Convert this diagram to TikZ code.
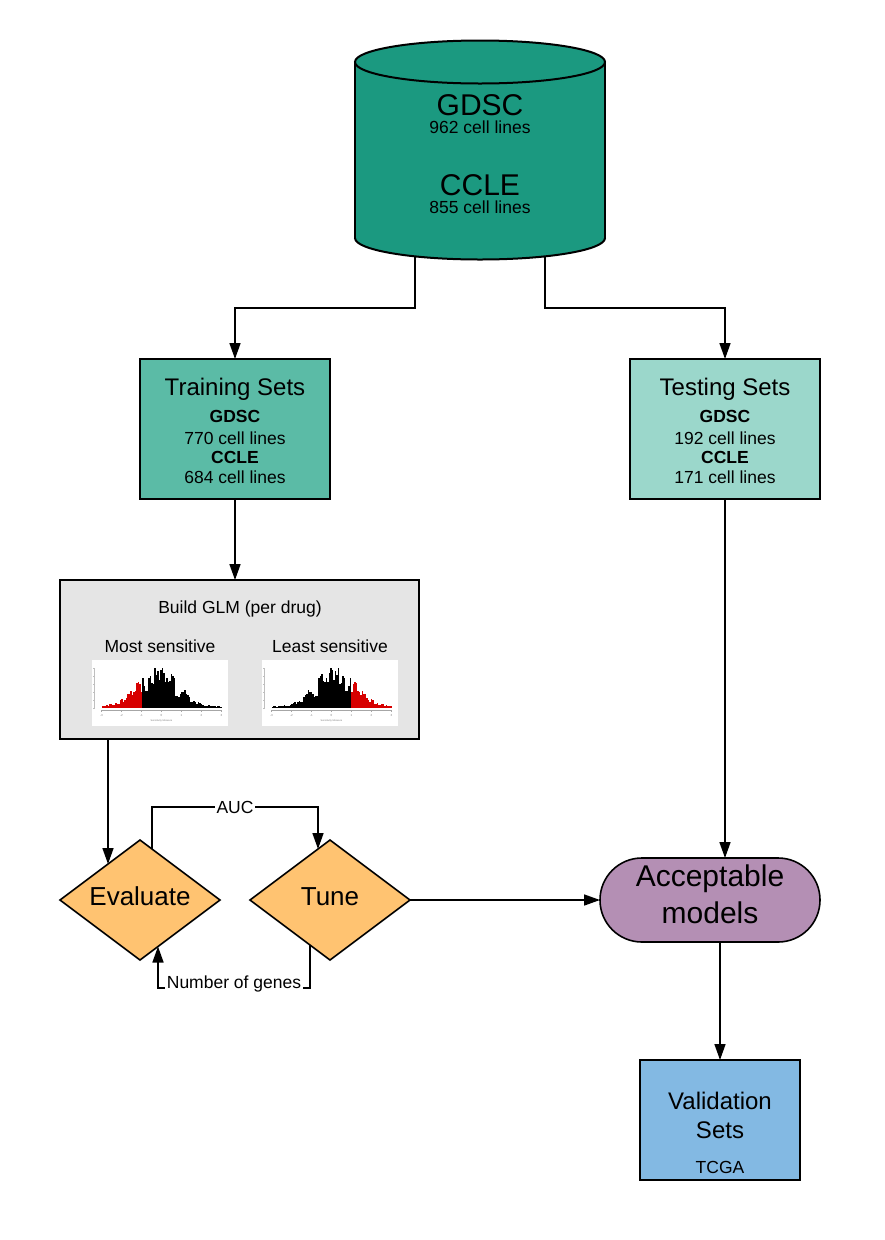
\documentclass[tikz,border=0pt]{standalone}
\usepackage{fontspec}
\setmainfont{Liberation Sans}
\usetikzlibrary{arrows.meta,shapes.geometric,calc}
\definecolor{dbcol}{RGB}{27,153,128}
\definecolor{traincol}{RGB}{91,187,166}
\definecolor{testcol}{RGB}{155,215,203}
\definecolor{glmcol}{RGB}{229,229,229}
\definecolor{diacol}{RGB}{255,195,113}
\definecolor{acccol}{RGB}{180,143,180}
\definecolor{valcol}{RGB}{131,185,227}
\definecolor{histred}{RGB}{215,0,0}
\newcommand\myfs[1]{\fontsize{#1}{#1}\selectfont}
\newcommand\histbars{%
  \pgfmathsetseed{12}%
  \foreach \i in {0,...,79}{%
    \pgfmathsetmacro\xc{-3+0.075*(\i+0.5)}%
    \pgfmathsetmacro\hh{1.2+42*exp(-((\xc+0.2)^2)/(2*1.0^2))*(0.4+0.6*rnd)}%
    \ifnum\i<27 \def\bc{histred}\else\def\bc{black}\fi
    \fill[fill=\bc] (-60+1.5*\i,0) rectangle (-58.5+1.5*\i,-\hh);
  }}
\newcommand\histaxes[1]{%
  \draw[gray!70, line width=0.4pt] (-60,2) -- (60,2);
  \foreach \t in {-3,...,3}{%
    \draw[gray!70, line width=0.3pt] (20*\t,2) -- (20*\t,4);
    \node[font=\myfs{3}, text=gray, inner sep=0pt] (#1t\t) at (20*\t,7) {\t};
  }
  \node[font=\myfs{2.5}, text=gray, inner sep=0pt] (#1lab) at (0,13) {Sensitivity Measure};
  \draw[gray!50, line width=0.3pt] (-67,0) -- (-67,-40);
  \foreach \u in {0,8,...,40}{\draw[gray!50, line width=0.3pt] (-67,-\u) -- (-69,-\u);}
}
\begin{document}
\begin{tikzpicture}[x=1pt,y=-1pt,
  arr/.style={line width=1.6pt, -{Triangle[length=16pt,width=11pt]}},
  box/.style={draw, line width=2pt, inner sep=0pt, outer sep=0pt},
  dia/.style={diamond, draw, line width=1.6pt, fill=diacol, minimum width=160pt,
    minimum height=120pt, inner sep=0pt, outer sep=0pt, aspect=1.333},
  txt/.style={inner sep=0pt, anchor=base},
  lbl/.style={fill=white, inner sep=1.5pt, font=\myfs{17.5}},
]
\useasboundingbox (0,0) rectangle (885,1240);

% ---------- cylinder ----------
\fill[dbcol] (355,62) rectangle (605,238);
\fill[dbcol] (480,238) ellipse [x radius=125pt, y radius=21.5pt];
\begin{scope}
  \clip (340,238) rectangle (620,275);
  \draw[line width=2pt] (480,238) ellipse [x radius=125pt, y radius=21.5pt];
\end{scope}
\draw[line width=2pt] (355,62) -- (355,238) (605,62) -- (605,238);
\draw[line width=2pt, fill=dbcol] (480,62) ellipse [x radius=125pt, y radius=21.5pt];
\node[inner sep=0pt, minimum width=250pt, minimum height=220pt] (db) at (480,150) {};
\coordinate (dbl) at (415,257);
\coordinate (dbr) at (545,257);
\node[txt, font=\myfs{30}] (dbg) at (480,115) {GDSC};
\node[txt, font=\myfs{17.5}] (dbgn) at (480,133.3) {962 cell lines};
\node[txt, font=\myfs{30}] (dbc) at (480,195) {CCLE};
\node[txt, font=\myfs{17.5}] (dbcn) at (480,213) {855 cell lines};

% ---------- training / testing ----------
\node[box, fill=traincol, minimum width=190pt, minimum height=140pt] (train) at (235,429) {};
\node[txt, font=\myfs{24}] (trt) at (235,395) {Training Sets};
\node[txt, font=\myfs{17.5}\bfseries] (trg) at (235,422.7) {GDSC};
\node[txt, font=\myfs{17.5}] (trgn) at (235,444.7) {770 cell lines};
\node[txt, font=\myfs{17.5}\bfseries] (trc) at (235,463.3) {CCLE};
\node[txt, font=\myfs{17.5}] (trcn) at (235,483.3) {684 cell lines};

\node[box, fill=testcol, minimum width=190pt, minimum height=140pt] (test) at (725,429) {};
\node[txt, font=\myfs{24}] (tet) at (725,395) {Testing Sets};
\node[txt, font=\myfs{17.5}\bfseries] (teg) at (725,422.7) {GDSC};
\node[txt, font=\myfs{17.5}] (tegn) at (725,444.7) {192 cell lines};
\node[txt, font=\myfs{17.5}\bfseries] (tec) at (725,463.3) {CCLE};
\node[txt, font=\myfs{17.5}] (tecn) at (725,483.3) {171 cell lines};

% ---------- GLM box ----------
\node[box, fill=glmcol, minimum width=359pt, minimum height=159pt] (glm) at (239.5,659.5) {};
\node[txt, font=\myfs{17.5}] (glmt) at (240,613.3) {Build GLM (per drug)};
\node[txt, font=\myfs{17.5}] (most) at (160,652.7) {Most sensitive};
\node[txt, font=\myfs{17.5}] (least) at (330,652.7) {Least sensitive};
\fill[white] (92.3,660) rectangle (227.7,725.7);
\fill[white] (262.3,660) rectangle (398.3,725.7);
\begin{scope}[shift={(161.5,708)}]
  \histbars
  \histaxes{ha}
\end{scope}
\begin{scope}[shift={(331.5,708)}]
  \begin{scope}[xscale=-1]
    \histbars
  \end{scope}
  \histaxes{hb}
\end{scope}

% ---------- diamonds ----------
\node[dia] (ev) at (140,900) {};
\node[txt, font=\myfs{26}] (evt) at (140,905) {Evaluate};
\node[dia] (tune) at (330,900) {};
\node[txt, font=\myfs{26}] (tunet) at (330,905) {Tune};

% ---------- acceptable / validation ----------
\node[draw, line width=1.6pt, fill=acccol, rounded corners=41.9pt, minimum width=220pt,
  minimum height=84pt, inner sep=0pt, outer sep=0pt] (acc) at (710,900) {};
\node[txt, font=\myfs{30}] (acct) at (710,886.7) {Acceptable};
\node[txt, font=\myfs{30}] (accm) at (710,923.3) {models};

\node[box, fill=valcol, minimum width=160pt, minimum height=120pt] (val) at (720,1120) {};
\node[txt, font=\myfs{24}] (valt) at (720,1109.3) {Validation};
\node[txt, font=\myfs{24}] (vals) at (720,1138.3) {Sets};
\node[txt, font=\myfs{17.5}] (valc) at (720,1173.3) {TCGA};

% ---------- connectors ----------
\draw[arr] (dbl) -- ++(0,51) -| (train.north);
\draw[arr] (dbr) -- ++(0,51) -| (test.north);
\draw[arr] (train.south) -- (train.south |- glm.north);
\coordinate (evin) at ($(ev.north)!0.4!(ev.west)$);
\draw[arr] (glm.south -| evin) -- (evin);
\coordinate (aucs) at ($(ev.north)!0.15!(ev.east)$);
\coordinate (auce) at ($(tune.north)!0.15!(tune.west)$);
\draw[arr] (aucs) -- ++(0,-42) -| node[lbl, pos=0.25] (auc) {AUC} (auce);
\coordinate (ngs) at ($(tune.south)!0.25!(tune.west)$);
\coordinate (nge) at ($(ev.south)!0.225!(ev.east)$);
\draw[arr] (ngs) -- ++(0,43) -| node[lbl, pos=0.25, yshift=4pt] (nog) {Number of genes} (nge);
\draw[arr] (tune.east) -- (acc.west);
\draw[arr] (test.south) -- (test.south |- acc.north);
\draw[arr] (val.north |- acc.south) -- (val.north);
\end{tikzpicture}
\end{document}
